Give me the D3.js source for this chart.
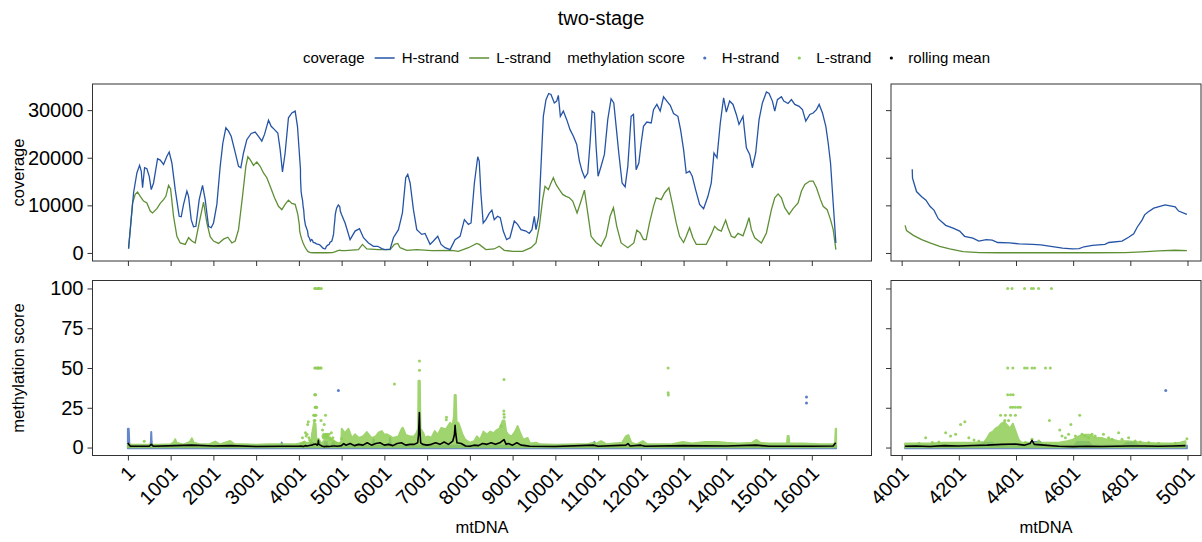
<!DOCTYPE html>
<html>
<head>
<meta charset="utf-8">
<script src="https://cdn.jsdelivr.net/npm/d3@7"></script>
<style>
  body { margin: 0; background: #fff; }
  svg text { font-family: "Liberation Sans", Arial, sans-serif; }
</style>
</head>
<body>
<div id="graf"></div>
<script>
// ---- data ----
const genomeLen = 16569
const zoomFrom = 4013
const zoomTo = 4999

const xTicksFull = [1, 1001, 2001, 3001, 4001, 5001, 6001, 7001, 8001, 9001, 10001, 11001, 12001, 13001, 14001, 15001, 16001]
const xTicksZoom = [4001, 4201, 4401, 4601, 4801, 5001]
const yTicksCov = [0, 10000, 20000, 30000]
const yTicksMeth = [0, 25, 50, 75, 100]

// coverage, H-strand
const covHPos = [
  16, 133, 211, 274, 313, 344, 391, 445, 500, 547,
  601, 695, 757, 835, 913, 967, 1030, 1108, 1201, 1248,
  1303, 1381, 1420, 1482, 1536, 1591, 1669, 1747, 1809, 1887,
  1950, 2004, 2082, 2160, 2222, 2293, 2355, 2417, 2495, 2589,
  2643, 2705, 2783, 2885, 2978, 3056, 3134, 3197, 3290, 3353,
  3431, 3508, 3563, 3617, 3679, 3757, 3836, 3914, 3968, 4038,
  4039, 4053, 4071, 4086, 4100, 4114, 4129, 4155, 4181, 4204,
  4221, 4250, 4271, 4297, 4318, 4337, 4378, 4413, 4459, 4488,
  4523, 4564, 4598, 4622, 4639, 4668, 4712, 4726, 4772, 4795,
  4813, 4825, 4842, 4851, 4863, 4883, 4923, 4958, 4970, 4999,
  5082, 5199, 5316, 5418, 5512, 5629, 5746, 5847, 5940, 6018,
  6135, 6213, 6330, 6423, 6501, 6548, 6603, 6681, 6759, 6875,
  6953, 7070, 7148, 7250, 7327, 7421, 7538, 7655, 7772, 7873,
  7967, 8029, 8107, 8185, 8220, 8259, 8313, 8376, 8454, 8517,
  8571, 8649, 8712, 8782, 8860, 8938, 9040, 9118, 9196, 9313,
  9391, 9454, 9509, 9548, 9610, 9665, 9720, 9782, 9845, 9899,
  9977, 10032, 10071, 10118, 10188, 10267, 10345, 10423, 10501, 10564,
  10626, 10689, 10759, 10813, 10860, 10915, 10954, 11001, 11071, 11149,
  11227, 11305, 11368, 11423, 11485, 11563, 11633, 11696, 11774, 11829,
  11891, 11954, 12009, 12063, 12141, 12243, 12298, 12376, 12454, 12532,
  12610, 12689, 12767, 12868, 12930, 13001, 13063, 13141, 13204, 13282,
  13376, 13469, 13571, 13649, 13712, 13782, 13860, 13938, 14001, 14079,
  14157, 14235, 14298, 14391, 14470, 14548, 14610, 14688, 14767, 14845,
  14939, 15001, 15079, 15134, 15196, 15290, 15345, 15446, 15524, 15603,
  15704, 15782, 15860, 15954, 16032, 16110, 16173, 16251, 16329, 16384,
  16439, 16501, 16564
]
const covHVal = [
  900, 12600, 16800, 18400, 17200, 13700, 17900, 17700, 16100, 13300,
  14700, 19800, 19500, 18600, 20300, 21200, 18900, 13300, 7700, 7600,
  10200, 13000, 11900, 7000, 5500, 5600, 11200, 14200, 11200, 5600,
  5300, 6300, 10200, 18200, 23100, 26300, 25600, 24500, 21700, 18200,
  17900, 21000, 23800, 25100, 25400, 24500, 23500, 24900, 27900, 26600,
  25900, 25200, 21700, 17000, 21000, 28400, 29400, 29800, 26600, 17600,
  15700, 12900, 11800, 11100, 9800, 9000, 7200, 5800, 5200, 4600,
  3500, 3100, 2500, 2800, 2700, 2200, 2100, 1900, 1800, 1700,
  1400, 1000, 850, 900, 1300, 1600, 1800, 2200, 2500, 3300,
  4000, 5400, 6900, 8000, 8600, 9400, 10100, 9700, 8800, 8100,
  6300, 2800, 4600, 5100, 3200, 2100, 1400, 1400, 900, 700,
  800, 3200, 4900, 8400, 15800, 16500, 14700, 9100, 4900, 3900,
  4100, 1800, 2500, 3500, 1800, 1100, 700, 2800, 3500, 7000,
  6000, 6300, 14700, 20200, 19300, 12600, 6300, 7000, 8300, 9000,
  7000, 7700, 7400, 4600, 2800, 3200, 6700, 6000, 4900, 4600,
  4100, 4900, 7700, 4900, 7700, 18200, 28700, 32200, 33500, 33300,
  31500, 31900, 33100, 28700, 29800, 28000, 25900, 24500, 22800, 19300,
  17200, 15800, 16800, 23100, 29800, 29400, 22400, 16100, 18200, 20700,
  28000, 32400, 31500, 26600, 21000, 14700, 13900, 18200, 28700, 29100,
  17500, 18900, 23100, 26600, 27500, 27300, 30100, 31200, 29800, 32800,
  31900, 31000, 29300, 28700, 25900, 21700, 16800, 17200, 16100, 13300,
  10200, 9300, 11900, 14700, 21000, 20000, 27300, 32600, 29600, 31900,
  31200, 29100, 27000, 28700, 22100, 20700, 17900, 21000, 28000, 31500,
  33800, 33500, 31900, 29800, 32200, 32800, 31900, 31400, 32200, 31200,
  30800, 30100, 27700, 29100, 29400, 30100, 31200, 29400, 26600, 23100,
  18900, 10500, 2100
]

// coverage, L-strand
const covLPos = [
  16, 110, 172, 227, 289, 367, 445, 523, 578, 679,
  757, 835, 889, 952, 999, 1069, 1147, 1225, 1342, 1420,
  1498, 1575, 1669, 1770, 1848, 1926, 2004, 2121, 2238, 2339,
  2433, 2511, 2589, 2682, 2760, 2807, 2861, 2939, 3017, 3095,
  3173, 3251, 3329, 3431, 3524, 3602, 3679, 3757, 3836, 3914,
  3976, 4013, 4018, 4042, 4071, 4100, 4134, 4169, 4216, 4274,
  4343, 4668, 4784, 4842, 4900, 4958, 4999, 5082, 5394, 5488,
  5590, 5862, 6135, 6236, 6314, 6369, 6525, 6759, 7109, 7577,
  7733, 7967, 8161, 8220, 8376, 8571, 8688, 8806, 9001, 9235,
  9431, 9548, 9626, 9704, 9759, 9837, 9899, 9954, 10017, 10095,
  10173, 10251, 10329, 10407, 10509, 10587, 10681, 10759, 10837, 10954,
  11071, 11188, 11282, 11360, 11438, 11540, 11696, 11837, 11907, 11985,
  12063, 12126, 12204, 12298, 12360, 12478, 12556, 12657, 12751, 12829,
  12907, 13001, 13063, 13141, 13219, 13298, 13532, 13649, 13727, 13805,
  13883, 13985, 14040, 14118, 14196, 14274, 14391, 14470, 14532, 14587,
  14665, 14821, 14939, 15056, 15134, 15212, 15290, 15368, 15470, 15563,
  15680, 15759, 15837, 15954, 16032, 16110, 16204, 16267, 16360, 16439,
  16501, 16564
]
const covLVal = [
  900, 10500, 12300, 12800, 11900, 10900, 10500, 8800, 8400, 9300,
  10400, 11200, 11900, 14200, 13500, 7700, 3500, 2100, 1800, 3200,
  2500, 2100, 6300, 10700, 6300, 3400, 2500, 2000, 2900, 3300,
  2100, 2500, 4900, 11900, 18200, 20200, 19600, 18400, 19100, 18200,
  16800, 15800, 14000, 11600, 9800, 9100, 10200, 11100, 10400, 10200,
  8100, 5800, 4700, 3700, 2800, 2100, 1400, 850, 280, 70,
  40, 40, 70, 210, 420, 570, 500, 500, 700, 1800,
  840, 700, 700, 1800, 2000, 1100, 560, 700, 500, 560,
  350, 1100, 2000, 1800, 700, 840, 1400, 560, 350, 350,
  1100, 2100, 5600, 11200, 14000, 13300, 14700, 15800, 14400, 13300,
  12300, 11900, 11600, 10900, 8400, 10500, 13200, 8400, 3500, 2200,
  1400, 3500, 7700, 9500, 5600, 2100, 1100, 2100, 4800, 4200,
  2800, 2800, 6300, 9800, 11600, 11200, 12600, 13700, 9800, 6300,
  3500, 2200, 3500, 5300, 3200, 1800, 1800, 3900, 5600, 4900,
  4600, 6900, 5300, 3500, 3200, 4100, 3600, 5600, 7400, 4900,
  3200, 2100, 4200, 9100, 11600, 12400, 11600, 9500, 8100, 9300,
  10500, 13000, 14400, 15100, 15100, 13700, 11200, 9800, 9100, 7000,
  4900, 700
]

// methylation score, L-strand: top of the dense cloud of points
const bandLPos = [
  1, 100, 300, 700, 1000, 1080, 1108, 1140, 1300, 1450,
  1498, 1540, 1700, 1900, 2043, 2150, 2393, 2500, 2700, 3000,
  3300, 3600, 3900, 4013, 4050, 4100, 4150, 4200, 4250, 4290,
  4300, 4310, 4320, 4330, 4340, 4350, 4360, 4370, 4380, 4390,
  4400, 4410, 4420, 4450, 4500, 4550, 4580, 4600, 4620, 4640,
  4660, 4680, 4700, 4720, 4740, 4760, 4790, 4820, 4850, 4900,
  4950, 4975, 4994, 5004, 5080, 5160, 5240, 5316, 5400, 5500,
  5590, 5700, 5800, 5862, 5940, 6000, 6060, 6135, 6200, 6330,
  6408, 6433, 6500, 6605, 6700, 6760, 6790, 6800, 6830, 6845,
  6915, 6953, 7025, 7100, 7180, 7250, 7337, 7440, 7540, 7600,
  7630, 7645, 7670, 7690, 7733, 7775, 7830, 7890, 8010, 8100,
  8165, 8240, 8320, 8400, 8476, 8560, 8632, 8700, 8770, 8810,
  8850, 8900, 8980, 9060, 9118, 9180, 9250, 9352, 9410, 9548,
  9640, 10000, 10500, 10730, 10890, 10960, 11071, 11200, 11360, 11560,
  11657, 11710, 11780, 11900, 12048, 12150, 12400, 12700, 12985, 13200,
  13500, 13800, 14000, 14300, 14600, 14704, 14800, 15000, 15420, 15435,
  15460, 15475, 15800, 16200, 16500, 16545, 16560, 16569
]
const bandLTop = [
  2, 1.7, 1.8, 1.7, 2, 3.5, 5.2, 3, 2, 3.5,
  5.8, 3, 2, 2, 3.7, 2, 4.1, 2, 2, 1.8,
  2, 2, 2, 2.5, 2.5, 2.5, 3, 3, 3, 3.5,
  6, 9, 10, 12, 13, 15, 16, 14, 12, 15,
  10, 5, 3, 3, 3, 3, 4, 5, 7, 8,
  8, 6, 6, 5, 5, 4, 4, 3.5, 3, 2.5,
  2.5, 3, 4, 11.8, 9, 11.8, 6, 8.3, 6, 7,
  9.7, 6, 7, 9.3, 10.3, 8, 8.3, 7.2, 6, 7,
  11.8, 12.4, 8, 7, 7, 9.4, 12, 42, 42, 12,
  9, 6, 7, 6, 10.3, 8, 12.4, 11.4, 15.5, 14,
  20, 33, 33, 16, 15.5, 12.4, 8, 5, 3, 4,
  7, 5, 10, 8, 10, 9, 11, 12, 17, 17,
  10, 8, 7, 10, 13.5, 9, 5, 6, 2.5, 3,
  2, 1.8, 2, 2, 3, 2.5, 4, 2, 2.5, 3,
  7.2, 7.8, 3, 2, 4, 2, 2, 2, 3.5, 2.5,
  3.5, 3.5, 3, 2.5, 3, 4.8, 3, 2.5, 2.5, 7.2,
  7.2, 2.5, 2.5, 2, 2, 3, 11.8, 11.8
]

// methylation score, L-strand: single points standing out of the cloud
const ptLPos = [
  383,
  4372, 4387, 4431, 4455, 4462, 4480, 4525,
  4372, 4390, 4431, 4440, 4457, 4466, 4504, 4521,
  4372, 4382, 4391,
  4382, 4390, 4399, 4408, 4416,
  4347, 4364, 4382, 4399,
  4362, 4375,
  4518, 4624, 4593, 4222, 4207,
  4085, 4131, 4155, 4172, 4190, 4236, 4254, 4271, 4108, 4062,
  4434, 4457, 4481,
  4554, 4562, 4574, 4585, 4609, 4632, 4643, 4655, 4667, 4678,
  4707, 4725, 4737, 4760, 4772,
  4795, 4818, 4836, 4865, 4900, 4958, 4999,
  6236,
  6822, 6822,
  7450, 7455,
  8800, 8795, 8800, 8805, 8730,
  12640, 12640, 12645
]
const ptLVal = [
  4,
  100, 100, 100, 100, 100, 100, 100,
  50, 50, 50, 50, 50, 50, 50, 50,
  33.2, 33.2, 33.2,
  25.3, 25.3, 25.3, 25.3, 25.3,
  20.3, 20.3, 20.3, 20.3,
  17, 17,
  17, 20.3, 14.5, 16.2, 14.5,
  6.2, 3.5, 9.3, 7.3, 8.3, 6.2, 4.8, 4.1, 3.1, 2.7,
  3.1, 5.2, 4.1,
  11, 7.3, 6.2, 8.3, 7.3, 8.3, 7.3, 6.2, 8.3, 7.3,
  8.3, 6.2, 5.2, 9.3, 5.2,
  6.2, 4.1, 3.5, 3.1, 2.7, 2.7, 5.6,
  40,
  48.6, 54.4,
  17.4, 19,
  42.8, 23, 21, 19, 13.4,
  50, 34.5, 33
]

// methylation score, H-strand
const bandHPos = [
  1, 20, 35, 530, 540, 547, 555, 565, 3585, 3600,
  3615, 4013, 4270, 4290, 4318, 4330, 4450, 4460, 4486, 4495,
  4605, 4615, 4655, 4665, 4775, 4790, 4818, 4830, 4999, 5730,
  5746, 5762, 6120, 6135, 6150, 10900, 10915, 10930, 16569
]
const bandHTop = [
  11.8, 11.8, 1.2, 1.2, 4, 9.7, 4, 1.2, 1.2, 3.1,
  1.2, 1.2, 1.2, 3, 3, 1.2, 1.2, 3.5, 3.5, 1.2,
  1.2, 3.5, 3.5, 1.2, 1.2, 3, 3, 1.2, 1.2, 1.2,
  5, 1.2, 1.2, 6, 1.2, 1.2, 3.5, 1.2, 1.2
]
const ptHPos = [4925, 15876, 15876]
const ptHVal = [35.9, 31.7, 28]

// rolling mean
const rollPos = [
  1, 20, 60, 500, 547, 600, 1100, 1500, 2000, 2400,
  3000, 3600, 4013, 4050, 4100, 4150, 4200, 4250, 4300, 4350,
  4400, 4430, 4450, 4457, 4465, 4500, 4550, 4600, 4650, 4700,
  4750, 4800, 4850, 4900, 4950, 4994, 5050, 5100, 5200, 5300,
  5400, 5500, 5600, 5700, 5800, 5900, 6000, 6100, 6200, 6300,
  6400, 6500, 6600, 6700, 6780, 6800, 6810, 6820, 6830, 6850,
  6900, 7000, 7100, 7200, 7300, 7400, 7500, 7600, 7640, 7655,
  7670, 7700, 7800, 7900, 8000, 8100, 8200, 8300, 8400, 8500,
  8600, 8700, 8800, 8850, 8900, 9000, 9100, 9200, 9300, 9400,
  10000, 10900, 11000, 11650, 11700, 11750, 12000, 12100, 13000, 14000,
  14700, 15000, 16000, 16500, 16560
]
const rollVal = [
  3, 2, 0.8, 0.8, 2, 0.8, 1.2, 1.5, 1, 1.2,
  0.7, 0.8, 0.8, 1, 0.7, 1.2, 1, 1.3, 1.5, 2,
  2.2, 1.5, 2.5, 4.5, 2, 1.5, 0.8, 0.6, 0.8, 0.7,
  0.8, 1, 1, 0.8, 1, 1.2, 2.5, 1.5, 2.5, 1.2,
  2, 1.5, 3, 1.5, 2.5, 3, 1.5, 2, 1.2, 2.5,
  3, 1.5, 2, 2, 3, 8, 15, 22, 12, 3,
  2, 1.5, 2, 3, 2, 3.5, 2, 4, 8, 14,
  9, 3, 2.5, 1, 0.8, 1.5, 1.2, 2.5, 2, 3,
  2, 3, 5, 2, 2.5, 1.5, 3, 1.5, 1.2, 0.8,
  0.7, 1.5, 0.8, 1.5, 2.5, 1, 1.5, 0.8, 1.2, 1,
  1.5, 0.8, 0.8, 1, 3
]

// ---- drawing ----
const colLineH = "#2554a6"
const colLineL = "#5e8f35"
const colPtH = "#4a71c2"
const colPtL = "#8fcd55"

const svg = d3.select("#graf").append("svg").attr("width", 1202).attr("height", 542)

const colLeft = { x0: 92.5, x1: 871.5 }
const colRight = { x0: 891, x1: 1201 }
const rowTop = { y0: 84, y1: 261 }
const rowBot = { y0: 280.5, y1: 455.5 }

const expand = ([a, b]) => [a - (b - a) * 0.05, b + (b - a) * 0.05]
const zip = (p, v) => p.map((d, i) => [d, v[i]])
const all = (a) => a
const inZoom = (a) => a.filter((d) => d[0] >= zoomFrom && d[0] <= zoomTo)

const xFull = d3.scaleLinear().domain(expand([1, genomeLen])).range([colLeft.x0, colLeft.x1])
const xZoom = d3.scaleLinear().domain(expand([zoomFrom, zoomTo])).range([colRight.x0, colRight.x1])
const yCov = d3.scaleLinear().domain(expand([0, d3.max(covHVal)])).range([rowTop.y1, rowTop.y0])
const yMeth = d3.scaleLinear().domain(expand([0, 100])).range([rowBot.y1, rowBot.y0])

function drawCoverage(g, x, y, sub) {
  const line = d3.line().x((d) => x(d[0])).y((d) => y(d[1]))
  g.append("path").datum(sub(zip(covLPos, covLVal))).attr("d", line)
    .attr("fill", "none").attr("stroke", colLineL).attr("stroke-width", 1.3)
  g.append("path").datum(sub(zip(covHPos, covHVal))).attr("d", line)
    .attr("fill", "none").attr("stroke", colLineH).attr("stroke-width", 1.3)
}

function drawMethylation(g, x, y, sub) {
  const bandH = d3.area().x((d) => x(d[0])).y0(y(-0.4)).y1((d) => y(d[1]))
  g.append("path").datum(sub(zip(bandHPos, bandHTop))).attr("d", bandH)
    .attr("fill", colPtH).attr("stroke", colPtH).attr("stroke-width", 2)
    .attr("stroke-linejoin", "round").attr("opacity", 0.85)
  g.selectAll(".ph").data(sub(zip(ptHPos, ptHVal))).join("circle")
    .attr("cx", (d) => x(d[0])).attr("cy", (d) => y(d[1])).attr("r", 1.5)
    .attr("fill", colPtH).attr("opacity", 0.9)

  const bandL = d3.area().x((d) => x(d[0])).y0(y(0.2)).y1((d) => y(d[1]))
  g.append("path").datum(sub(zip(bandLPos, bandLTop))).attr("d", bandL)
    .attr("fill", colPtL).attr("stroke", colPtL).attr("stroke-width", 2)
    .attr("stroke-linejoin", "round").attr("opacity", 0.85)
  g.selectAll(".pl").data(sub(zip(ptLPos, ptLVal))).join("circle")
    .attr("cx", (d) => x(d[0])).attr("cy", (d) => y(d[1])).attr("r", 1.5)
    .attr("fill", colPtL).attr("opacity", 0.9)

  const roll = d3.line().x((d) => x(d[0])).y((d) => y(d[1]))
  g.append("path").datum(sub(zip(rollPos, rollVal))).attr("d", roll)
    .attr("fill", "none").attr("stroke", "#000").attr("stroke-width", 1.6)
    .attr("stroke-linejoin", "round")
}

function frame(x, y, col, row, xTicks, yTicks, xLabels, yLabels) {
  // ticks on x
  const gx = svg.append("g").attr("transform", `translate(0, ${row.y1})`)
    .call(d3.axisBottom(x).tickValues(xTicks).tickSize(5).tickSizeOuter(0)
      .tickFormat(xLabels ? d3.format("d") : () => ""))
  gx.select(".domain").remove()
  gx.selectAll(".tick line").attr("stroke", "#333")
  gx.selectAll(".tick text")
    .attr("y", null).attr("dy", null)
    .attr("text-anchor", "end")
    .attr("transform", "translate(8, 19) rotate(-45)")
    .attr("font-size", 20).attr("fill", "#000")

  // ticks on y
  const gy = svg.append("g").attr("transform", `translate(${col.x0}, 0)`)
    .call(d3.axisLeft(y).tickValues(yTicks).tickSize(5).tickPadding(4).tickSizeOuter(0)
      .tickFormat(yLabels ? d3.format("d") : () => ""))
  gy.select(".domain").remove()
  gy.selectAll(".tick line").attr("stroke", "#333")
  gy.selectAll(".tick text").attr("font-size", 20).attr("fill", "#000")

  svg.append("rect")
    .attr("x", col.x0).attr("y", row.y0)
    .attr("width", col.x1 - col.x0).attr("height", row.y1 - row.y0)
    .attr("fill", "none").attr("stroke", "#333").attr("stroke-width", 1)
}

function clipFor(id, col, row) {
  svg.append("clipPath").attr("id", id).append("rect")
    .attr("x", col.x0).attr("y", row.y0)
    .attr("width", col.x1 - col.x0).attr("height", row.y1 - row.y0)
  return svg.append("g").attr("clip-path", `url(#${id})`)
}

drawCoverage(clipFor("c1", colLeft, rowTop), xFull, yCov, all)
drawCoverage(clipFor("c2", colRight, rowTop), xZoom, yCov, inZoom)
drawMethylation(clipFor("c3", colLeft, rowBot), xFull, yMeth, all)
drawMethylation(clipFor("c4", colRight, rowBot), xZoom, yMeth, inZoom)

frame(xFull, yCov, colLeft, rowTop, xTicksFull, yTicksCov, false, true)
frame(xZoom, yCov, colRight, rowTop, xTicksZoom, yTicksCov, false, false)
frame(xFull, yMeth, colLeft, rowBot, xTicksFull, yTicksMeth, true, true)
frame(xZoom, yMeth, colRight, rowBot, xTicksZoom, yTicksMeth, true, false)

// titles
svg.append("text").attr("x", 601).attr("y", 25).attr("text-anchor", "middle")
  .attr("font-size", 20).attr("fill", "#000").text("two-stage")

svg.append("text").attr("transform", `translate(24, ${(rowTop.y0 + rowTop.y1) / 2}) rotate(-90)`)
  .attr("text-anchor", "middle").attr("font-size", 16.5).attr("fill", "#000").text("coverage")
svg.append("text").attr("transform", `translate(24, ${(rowBot.y0 + rowBot.y1) / 2}) rotate(-90)`)
  .attr("text-anchor", "middle").attr("font-size", 16.5).attr("fill", "#000").text("methylation score")

svg.append("text").attr("x", (colLeft.x0 + colLeft.x1) / 2).attr("y", 533)
  .attr("text-anchor", "middle").attr("font-size", 16.5).attr("fill", "#000").text("mtDNA")
svg.append("text").attr("x", (colRight.x0 + colRight.x1) / 2).attr("y", 533)
  .attr("text-anchor", "middle").attr("font-size", 16.5).attr("fill", "#000").text("mtDNA")

// legend
const legendItems = [
  { type: "title", label: "coverage" },
  { type: "line", color: colLineH, label: "H-strand" },
  { type: "line", color: colLineL, label: "L-strand" },
  { type: "title", label: "methylation score" },
  { type: "dot", color: colPtH, label: "H-strand" },
  { type: "dot", color: colPtL, label: "L-strand" },
  { type: "dot", color: "#000", label: "rolling mean" },
]
const legend = svg.append("g")
const ly = 58
let cx = 0
legendItems.forEach((it, i) => {
  if (it.type === "title") {
    if (i > 0) cx += 16
  } else {
    cx += 10
    if (it.type === "line") {
      legend.append("line").attr("x1", cx).attr("x2", cx + 20).attr("y1", ly).attr("y2", ly)
        .attr("stroke", it.color).attr("stroke-width", 1.5)
    } else {
      legend.append("circle").attr("cx", cx + 10).attr("cy", ly).attr("r", 1.6).attr("fill", it.color)
    }
    cx += 27
  }
  const t = legend.append("text").attr("x", cx).attr("y", ly + 5).attr("font-size", 15)
    .attr("fill", "#000").text(it.label)
  cx += t.node().getComputedTextLength()
})
legend.attr("transform", `translate(${646.5 - cx / 2}, 0)`)
</script>
</body>
</html>
